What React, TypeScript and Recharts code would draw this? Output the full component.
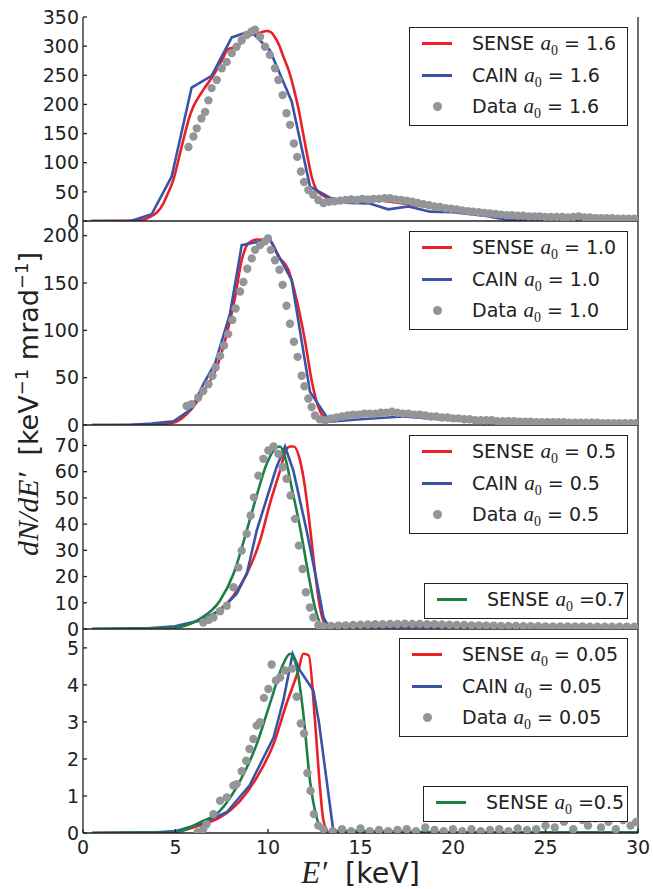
import React from "react";
import { ComposedChart, Line, Scatter, XAxis, YAxis } from "recharts";

const RED = "#ec1f27";
const BLUE = "#3a54a5";
const GREEN = "#1a8043";
const GRAY = "#939598";
const INK = "#222";

const X_TICKS = [0, 5, 10, 15, 20, 25, 30];

// a0 = 1.6
const sense16: [number, number][] = [
  [0.5, 0], [2.5, 0.5], [3.2, 2], [3.62, 7], [4.0, 15], [4.34, 30], [4.6, 48], [4.88, 70],
  [5.2, 110], [5.51, 150], [5.75, 178], [5.96, 196], [6.2, 210], [6.5, 225], [7.05, 250],
  [7.5, 275], [7.85, 295], [8.1, 297], [8.3, 298], [8.55, 306], [8.85, 317], [9.2, 320],
  [9.57, 323], [9.93, 326], [10.15, 324], [10.4, 314], [10.6, 302], [10.83, 282], [11.1, 260],
  [11.37, 230], [11.65, 192], [11.9, 150], [12.15, 108], [12.36, 76], [12.63, 53], [12.9, 45],
  [13.35, 38], [14, 36], [15.5, 36], [17.3, 30], [18.5, 25], [20, 20], [21.8, 13], [23.5, 10],
  [25.4, 8.6], [28, 7], [30, 6],
];
const cain16: [number, number][] = [
  [0.4, 0], [2.63, 0.5], [3.71, 11.5], [4.79, 76], [5.87, 229], [6.95, 249], [8.04, 315],
  [9.06, 326], [10.1, 293], [11.28, 205], [12.27, 59], [13.35, 40], [14.4, 31], [15.5, 30],
  [16.5, 20], [17.6, 25], [18.76, 16], [20, 15], [21.8, 8.6], [22.9, 2], [24, 1], [26, 1],
  [28, 0.5], [30, 0.5],
];
const data16: [number, number][] = [
  [5.7, 127], [5.97, 145], [6.15, 159], [6.4, 176], [6.6, 187], [6.78, 207], [6.95, 228],
  [7.23, 242], [7.5, 262], [7.77, 273], [8.04, 288], [8.3, 299], [8.58, 310], [8.85, 319],
  [9.12, 325], [9.3, 328], [9.57, 316], [9.84, 299], [10.1, 285], [10.38, 262], [10.56, 242],
  [10.79, 216], [11.0, 185], [11.19, 165], [11.4, 133], [11.58, 110], [11.78, 85], [11.95, 67],
  [12.18, 53], [12.45, 45], [12.72, 36], [13.0, 31], [13.3, 33], [13.6, 34], [13.9, 35],
  [14.2, 36], [14.5, 37], [14.8, 36], [15.1, 38], [15.4, 37], [15.7, 38], [16.0, 38],
  [16.3, 39], [16.6, 39], [16.9, 37], [17.2, 36], [17.5, 35], [17.8, 33], [18.1, 31],
  [18.4, 29], [18.7, 27], [19.0, 25], [19.3, 24], [19.6, 22], [19.9, 21], [20.2, 20],
  [20.5, 18], [20.8, 17], [21.1, 16], [21.4, 15], [21.7, 14], [22.0, 13], [22.3, 12],
  [22.6, 11], [22.9, 10], [23.2, 10], [23.5, 9], [23.8, 9], [24.1, 8], [24.4, 8], [24.7, 8],
  [25.0, 7], [25.3, 7], [25.6, 7], [25.9, 7], [26.2, 6], [26.5, 7], [26.8, 8], [27.1, 6],
  [27.4, 6], [27.7, 5], [28.0, 5], [28.3, 5], [28.6, 5], [28.9, 4], [29.2, 4], [29.5, 4],
  [29.8, 4],
];

// a0 = 1.0
const sense10: [number, number][] = [
  [0.5, 0], [3, 0.3], [4.2, 1.2], [4.97, 3], [5.4, 8], [5.87, 17], [6.6, 38], [7.23, 61],
  [7.77, 96], [8.22, 135], [8.58, 174], [8.94, 192], [9.39, 196], [10.1, 195], [10.56, 178],
  [11.1, 164], [11.55, 132], [12.0, 89], [12.36, 47], [12.72, 19], [13.08, 8], [13.4, 6.5],
  [15, 10], [16.6, 12.6], [18.2, 9], [20, 5.5], [22.7, 3.7], [26, 3], [30, 2.3],
];
const cain10: [number, number][] = [
  [0.5, 0], [2.6, 0.3], [3.7, 1.5], [4.9, 4], [5.87, 17], [6.5, 43], [7.14, 65], [7.95, 118],
  [8.58, 190], [10.1, 196], [11.28, 153], [12.27, 35], [13.35, 3.5], [15, 6], [17.3, 9],
  [20, 5], [22.7, 2.3], [25, 2], [30, 2],
];
const data10: [number, number][] = [
  [5.6, 20], [5.87, 22], [6.23, 29], [6.5, 36], [6.78, 43], [7.0, 52], [7.17, 61], [7.41, 73],
  [7.62, 84], [7.85, 96], [8.07, 111], [8.25, 123], [8.49, 141], [8.67, 151], [8.88, 165],
  [9.12, 176], [9.3, 185], [9.57, 190], [9.84, 194], [10.0, 197], [10.15, 185], [10.38, 174],
  [10.62, 164], [10.79, 148], [11.0, 126], [11.19, 107], [11.4, 88], [11.6, 72], [11.82, 52],
  [11.97, 41], [12.18, 28], [12.36, 19], [12.54, 10], [12.8, 6], [13.1, 5], [13.4, 7],
  [13.7, 8], [14.0, 9], [14.3, 10], [14.6, 11], [14.9, 11], [15.2, 12], [15.5, 12], [15.8, 12],
  [16.1, 13], [16.4, 13], [16.7, 14], [17.0, 13], [17.3, 12], [17.6, 12], [17.9, 11],
  [18.2, 11], [18.5, 10], [18.8, 9], [19.1, 9], [19.4, 8], [19.7, 8], [20.0, 7], [20.3, 7],
  [20.6, 6], [20.9, 6], [21.2, 5], [21.5, 5], [21.8, 5], [22.1, 5], [22.4, 4], [22.7, 4],
  [23.0, 4], [23.3, 4], [23.6, 3.5], [23.9, 3.5], [24.2, 3.5], [24.5, 3], [24.8, 3], [25.1, 3],
  [25.4, 3], [25.7, 3], [26.0, 3], [26.3, 2.5], [26.6, 2.5], [26.9, 2.5], [27.2, 2.5],
  [27.5, 2.5], [27.8, 2.5], [28.1, 2], [28.4, 2], [28.7, 2], [29.0, 2], [29.3, 2], [29.6, 2],
  [29.9, 2],
];

// a0 = 0.5 (and SENSE 0.7)
const sense05: [number, number][] = [
  [0.5, 0], [4, 0.3], [5, 0.6], [5.96, 2.5], [7.05, 5.7], [8.13, 12.7], [8.85, 21],
  [9.57, 33.7], [10.1, 47.7], [10.65, 60.4], [11.0, 68.7], [11.2, 69.6], [11.4, 69.6],
  [11.73, 64.3], [12.0, 54], [12.27, 38.8], [12.54, 22], [12.81, 8.2], [13.08, 1.9],
  [13.35, 0.8], [16, 0.8], [20, 0.8], [25, 0.7], [30, 0.6],
];
const cain05: [number, number][] = [
  [0.5, 0], [3.5, 0.3], [4.97, 1], [6.3, 3.2], [7.4, 7], [8.3, 13.4], [8.85, 21], [9.39, 37.5],
  [9.84, 47.7], [10.46, 61.7], [10.92, 69.6], [11.37, 60.4], [12.09, 37.5], [12.63, 18.4],
  [13.0, 4.4], [13.3, 0.6], [16, 0.8], [20, 0.8], [25, 0.6], [30, 0.6],
];
const sense07: [number, number][] = [
  [0.5, 0], [4, 0.2], [5, 0.5], [6.3, 3.8], [7.4, 10.8], [8.13, 21], [8.85, 37.5], [9.39, 50.9],
  [9.93, 63], [10.38, 68.7], [10.65, 69.6], [10.92, 65.5], [11.28, 54], [11.73, 38.8],
  [12.18, 21], [12.54, 8.2], [12.9, 1.3], [13.3, 0.5], [15, 1.2], [17, 1.8], [19, 2],
  [20, 1.8], [22, 1.2], [25, 0.8], [30, 0.6],
];
const data05: [number, number][] = [
  [6.5, 2.5], [6.8, 3.5], [7.05, 4.4], [7.41, 6.8], [7.77, 8.9], [8.13, 15.9], [8.4, 23.5],
  [8.58, 29.9], [8.85, 36.3], [9.06, 43.3], [9.24, 50.2], [9.48, 58.5], [9.75, 64.9],
  [10.02, 68.1], [10.3, 69.6], [10.56, 66.8], [10.79, 61.7], [11.0, 57.3], [11.22, 50.9],
  [11.46, 42], [11.67, 31.8], [11.87, 22.9], [12.05, 14], [12.27, 8.2], [12.45, 4.4],
  [12.72, 1.5], [13.0, 1], [13.4, 1.2], [13.8, 1.3], [14.2, 1.4], [14.6, 1.5], [15.0, 1.6],
  [15.4, 1.7], [15.8, 1.8], [16.2, 1.8], [16.6, 1.9], [17.0, 1.9], [17.4, 2], [17.8, 1.9],
  [18.2, 1.9], [18.6, 1.8], [19.0, 1.8], [19.4, 1.7], [19.8, 1.6], [20.2, 1.5], [20.6, 1.5],
  [21.0, 1.4], [21.4, 1.4], [21.8, 1.3], [22.2, 1.3], [22.6, 1.2], [23.0, 1.2], [23.4, 1.2],
  [23.8, 1.1], [24.2, 1.1], [24.6, 1.1], [25.0, 1], [25.4, 1], [25.8, 1], [26.2, 1], [26.6, 1],
  [27.0, 1], [27.4, 0.9], [27.8, 0.9], [28.2, 0.9], [28.6, 0.9], [29.0, 0.9], [29.4, 0.9],
  [29.8, 0.9],
];

// a0 = 0.05 (and SENSE 0.5)
const sense005: [number, number][] = [
  [0.5, 0], [4, 0.01], [5, 0.04], [6.3, 0.2], [7.4, 0.42], [8.49, 0.87], [9.39, 1.5],
  [10.3, 2.4], [11.0, 3.49], [11.64, 4.39], [11.91, 4.84], [12.2, 4.8], [12.54, 3.03],
  [12.81, 1.23], [13.0, 0.33], [13.3, 0.02], [20, 0.01], [30, 0.01],
];
const cain005: [number, number][] = [
  [0.5, 0], [4, 0.02], [5, 0.05], [6.3, 0.24], [7.77, 0.56], [9.0, 1.28], [10.3, 2.58],
  [10.83, 3.58], [11.33, 4.84], [11.73, 4.39], [12.45, 3.85], [12.75, 3.0], [13.53, 0.06],
  [20, 0.02], [30, 0.02],
];
const sense05b: [number, number][] = [
  [0.5, 0], [4, 0.01], [5, 0.02], [6.3, 0.28], [7.4, 0.6], [8.49, 1.41], [9.39, 2.4],
  [10.1, 3.49], [10.83, 4.57], [11.19, 4.84], [11.55, 4.48], [11.91, 3.22], [12.27, 1.41],
  [12.63, 0.42], [13.0, 0.02], [20, 0.02], [30, 0.02],
];
const data005: [number, number][] = [
  [6.2, 0.02], [6.5, 0.1], [6.68, 0.24], [7.05, 0.51], [7.41, 0.87], [7.77, 0.96], [8.13, 1.28],
  [8.3, 1.32], [8.58, 1.67], [8.82, 1.95], [9.0, 2.27], [9.21, 2.54], [9.39, 2.9], [9.57, 2.99],
  [9.78, 3.65], [10.02, 3.89], [10.2, 4.55], [10.43, 4.12], [10.65, 4.2], [10.92, 4.39],
  [11.3, 4.44], [11.55, 3.68], [11.77, 2.96], [11.95, 2.69], [12.13, 1.62], [12.3, 1.14],
  [12.48, 0.51], [12.72, 0.2], [13, 0.1], [13.5, 0.05], [14, 0.1], [14.5, 0.05], [15, 0.12],
  [15.5, 0.05], [16, 0.08], [16.5, 0.05], [17, 0.08], [17.5, 0.1], [18, 0.05], [18.5, 0.15],
  [19, 0.08], [19.5, 0.05], [20, 0.1], [20.5, 0.05], [21, 0.1], [21.5, 0.05], [22, 0.08],
  [22.5, 0.1], [23, 0.05], [23.5, 0.12], [24, 0.08], [24.5, 0.1], [25, 0.2], [25.5, 0.15],
  [26, 0.3], [26.5, 0.1], [27, 0.35], [27.3, 0.2], [27.7, 0.4], [28, 0.15], [28.4, 0.3],
  [28.8, 0.1], [29.2, 0.35], [29.6, 0.2], [29.9, 0.3],
];

const pts = (a: [number, number][]) => a.map(([x, y]) => ({ x, y }));

const PANEL_H = 204;
const TOP_PAD = 12;

type PanelProps = {
  top: number;
  yMax: number;
  yTicks: number[];
  red: [number, number][];
  blue: [number, number][];
  green?: [number, number][];
  dots: [number, number][];
  last?: boolean;
};

const tickStyle = { fill: INK, fontSize: 19, fontFamily: "DejaVu Sans" };
const axisStroke = { stroke: INK, strokeWidth: 1.3 };

function Panel({ top, yMax, yTicks, red, blue, green, dots, last }: PanelProps) {
  const bottomH = last ? 36 : 14;
  return (
    <div style={{ position: "absolute", left: 0, top: top - TOP_PAD }}>
      <ComposedChart
        width={653}
        height={PANEL_H + TOP_PAD + bottomH}
        margin={{ top: TOP_PAD, right: 0, bottom: 0, left: 0 }}
      >
        <XAxis
          xAxisId="b"
          dataKey="x"
          type="number"
          domain={[0, 30]}
          ticks={X_TICKS}
          interval={0}
          allowDataOverflow
          height={bottomH}
          tickSize={-4}
          tickMargin={12}
          tick={last ? tickStyle : false}
          axisLine={axisStroke}
          tickLine={axisStroke}
        />
        <XAxis
          xAxisId="t"
          dataKey="x"
          orientation="top"
          type="number"
          domain={[0, 30]}
          ticks={X_TICKS}
          interval={0}
          allowDataOverflow
          height={0}
          tickSize={-4}
          tick={false}
          axisLine={axisStroke}
          tickLine={axisStroke}
        />
        <YAxis
          yAxisId="l"
          dataKey="y"
          type="number"
          domain={[0, yMax]}
          ticks={yTicks}
          interval={0}
          allowDataOverflow
          width={83}
          tickSize={-4}
          tickMargin={8}
          tick={tickStyle}
          axisLine={axisStroke}
          tickLine={axisStroke}
        />
        <YAxis
          yAxisId="r"
          dataKey="y"
          orientation="right"
          type="number"
          domain={[0, yMax]}
          ticks={yTicks}
          interval={0}
          allowDataOverflow
          width={15}
          tickSize={-4}
          tick={false}
          axisLine={axisStroke}
          tickLine={axisStroke}
        />
        <Scatter
          xAxisId="b"
          yAxisId="l"
          data={pts(dots)}
          isAnimationActive={false}
          shape={(p: any) => <circle cx={p.cx} cy={p.cy} r={4.2} fill={GRAY} />}
        />
        <Line xAxisId="b" yAxisId="l" data={pts(red)} dataKey="y" type="monotone" stroke={RED} strokeWidth={2.6} dot={false} isAnimationActive={false} />
        <Line xAxisId="b" yAxisId="l" data={pts(blue)} dataKey="y" type="linear" stroke={BLUE} strokeWidth={2.6} dot={false} isAnimationActive={false} />
        {green && (
          <Line xAxisId="b" yAxisId="l" data={pts(green)} dataKey="y" type="monotone" stroke={GREEN} strokeWidth={2.6} dot={false} isAnimationActive={false} />
        )}
      </ComposedChart>
    </div>
  );
}

type Row = { kind: "line" | "dot"; color: string; name: string; tail: string };

const A0 = () => (
  <span style={{ fontFamily: "Liberation Serif", fontStyle: "italic", fontSize: 21 }}>
    a
    <span style={{ fontStyle: "normal", fontSize: 14, position: "relative", top: 5 }}>0</span>
  </span>
);

function LegendBox({ left, top, width, rows }: { left: number; top: number; width: number; rows: Row[] }) {
  const rowH = 31.5;
  return (
    <div
      style={{
        position: "absolute",
        left,
        top,
        width,
        height: rows.length * rowH + 4.5,
        border: `1.3px solid ${INK}`,
        background: "#fff",
        boxSizing: "border-box",
      }}
    >
      {rows.map((r, i) => (
        <div key={i} style={{ position: "absolute", left: 0, top: i * rowH, height: rowH, width: "100%" }}>
          {r.kind === "line" ? (
            <div style={{ position: "absolute", left: 12, top: 14, width: 30, height: 3, background: r.color }} />
          ) : (
            <div style={{ position: "absolute", left: 22.5, top: 11, width: 9, height: 9, borderRadius: "50%", background: r.color }} />
          )}
          <div
            style={{
              position: "absolute",
              left: 62,
              top: 0,
              lineHeight: `${rowH}px`,
              fontSize: 19,
              color: INK,
              whiteSpace: "pre",
            }}
          >
            {r.name} <A0 />
            {r.tail}
          </div>
        </div>
      ))}
    </div>
  );
}

const threeRows = (v: string): Row[] => [
  { kind: "line", color: RED, name: "SENSE", tail: ` = ${v}` },
  { kind: "line", color: BLUE, name: "CAIN", tail: ` = ${v}` },
  { kind: "dot", color: GRAY, name: "Data", tail: ` = ${v}` },
];

export default function App() {
  return (
    <div
      style={{
        position: "absolute",
        left: 0,
        top: 0,
        width: 653,
        height: 889,
        background: "#fff",
        fontFamily: "DejaVu Sans",
        overflow: "hidden",
      }}
    >
      <Panel top={17} yMax={350} yTicks={[0, 50, 100, 150, 200, 250, 300, 350]} red={sense16} blue={cain16} dots={data16} />
      <Panel top={221} yMax={215.5} yTicks={[0, 50, 100, 150, 200]} red={sense10} blue={cain10} dots={data10} />
      <Panel top={425} yMax={77.8} yTicks={[0, 10, 20, 30, 40, 50, 60, 70]} red={sense05} blue={cain05} green={sense07} dots={data05} />
      <Panel top={628.5} yMax={5.51} yTicks={[0, 1, 2, 3, 4, 5]} red={sense005} blue={cain005} green={sense05b} dots={data005} last />

      <LegendBox left={409} top={27} width={219} rows={threeRows("1.6")} />
      <LegendBox left={409} top={231} width={219} rows={threeRows("1.0")} />
      <LegendBox left={409} top={435} width={219} rows={threeRows("0.5")} />
      <LegendBox left={424} top={583} width={204} rows={[{ kind: "line", color: GREEN, name: "SENSE", tail: " =0.7" }]} />
      <LegendBox left={399} top={638} width={229} rows={threeRows("0.05")} />
      <LegendBox left={423} top={786} width={205} rows={[{ kind: "line", color: GREEN, name: "SENSE", tail: " =0.5" }]} />

      <div style={{ position: "absolute", left: 28, top: 404, width: 0, height: 0 }}>
        <div
          style={{
            position: "absolute",
            whiteSpace: "pre",
            fontSize: 27,
            color: INK,
            transform: "translate(-50%, -50%) rotate(-90deg)",
          }}
        >
          <span style={{ fontFamily: "Liberation Serif", fontStyle: "italic", fontSize: 30 }}>dN/dE′</span>
          {"  [keV"}
          <sup style={{ fontSize: 18 }}>−1</sup>
          {" mrad"}
          <sup style={{ fontSize: 18 }}>−1</sup>
          {"]"}
        </div>
      </div>

      <div
        style={{
          position: "absolute",
          left: 360.5,
          top: 873,
          whiteSpace: "pre",
          fontSize: 28.5,
          color: INK,
          transform: "translate(-50%, -50%)",
        }}
      >
        <span style={{ fontFamily: "Liberation Serif", fontStyle: "italic", fontSize: 31 }}>E′</span>
        {"  [keV]"}
      </div>
    </div>
  );
}
